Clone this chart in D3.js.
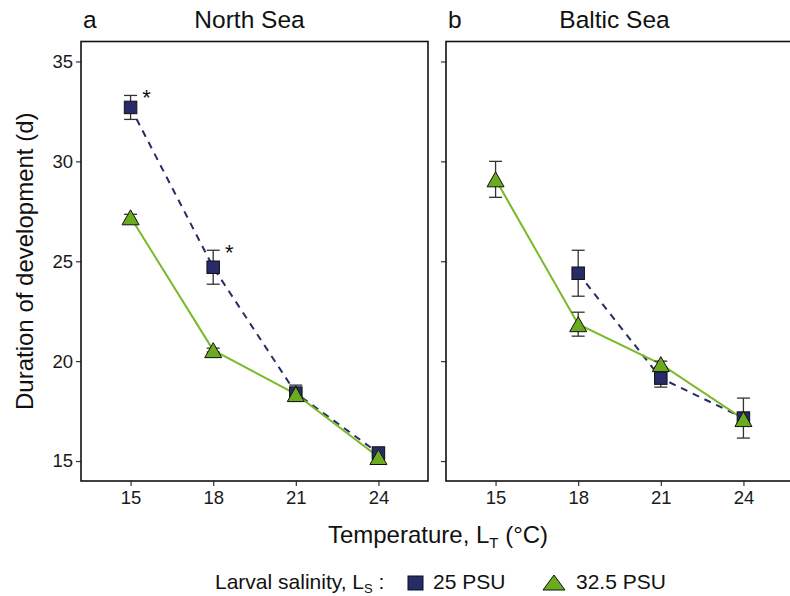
<!DOCTYPE html>
<html>
<head>
<meta charset="utf-8">
<script src="https://cdn.jsdelivr.net/npm/d3@7/dist/d3.min.js"></script>
<style>
  html, body { margin: 0; padding: 0; background: #fff; }
  svg { display: block; font-family: "Liberation Sans", Arial, Helvetica, sans-serif; }
</style>
</head>
<body>
<svg id="chart" width="790" height="596"></svg>
<script>
// ---- data ----
const temps = [15, 18, 21, 24];
const tickTemps = [15, 18, 21, 24];
const yTicks = [15, 20, 25, 30, 35];
const panels = ["North Sea", "Baltic Sea"];
const panelLetters = ["a", "b"];
const seriesNames = ["25 PSU", "32.5 PSU"];

const northLow = [32.7, 24.7, 18.4, 15.4];
const northLowErr = [0.6, 0.85, 0.4, 0.15];
const northHigh = [27.2, 20.55, 18.35, 15.2];
const northHighErr = [0.15, 0.1, 0.15, 0.1];

const balticLow = [null, 24.4, 19.15, 17.15];
const balticLowErr = [null, 1.15, 0.45, 1.0];
const balticHigh = [29.1, 21.85, 19.85, 17.1];
const balticHighErr = [0.9, 0.6, 0.15, 0.3];

// significance markers (panel index, temperature)
const starPanel = [0, 0];
const starTemp = [15, 18];

// ---- layout ----
const svg = d3.select("#chart");
const plotTop = 41.5, plotBottom = 481;
const panelLeft = [81, 446];
const panelWidth = 347;
const navy = "#272b68";
const greenFill = "#6aab1f";
const greenLine = "#7aba2a";

const y = d3.scaleLinear().domain([14, 36]).range([plotBottom, plotTop]);

const dataSets = [
  { low: northLow, lowErr: northLowErr, high: northHigh, highErr: northHighErr },
  { low: balticLow, lowErr: balticLowErr, high: balticHigh, highErr: balticHighErr }
];

panels.forEach((name, pi) => {
  const L = panelLeft[pi];
  const x = d3.scaleLinear().domain([13.2, 25.8]).range([L, L + panelWidth]);
  const g = svg.append("g");
  const ds = dataSets[pi];

  // axes
  const xAxis = d3.axisBottom(x).tickValues(tickTemps).tickSize(5).tickPadding(5);
  const gx = g.append("g").attr("transform", `translate(0,${plotBottom})`).call(xAxis);
  gx.select(".domain").remove();
  gx.selectAll("line").attr("stroke", "#333").attr("stroke-width", 1.2);
  gx.selectAll("text").attr("font-size", 18.5).attr("fill", "#1a1a1a")
    .attr("font-family", "Liberation Sans, Arial, sans-serif");

  const yAxis = d3.axisLeft(y).tickValues(yTicks).tickSize(5).tickPadding(3);
  const gy = g.append("g").attr("transform", `translate(${L},0)`).call(yAxis);
  gy.select(".domain").remove();
  gy.selectAll("line").attr("stroke", "#333").attr("stroke-width", 1.2);
  gy.selectAll("text").attr("font-size", 18.5).attr("fill", "#1a1a1a")
    .attr("font-family", "Liberation Sans, Arial, sans-serif")
    .style("display", pi === 0 ? null : "none");

  // panel border
  g.append("rect").attr("x", L).attr("y", plotTop)
    .attr("width", panelWidth).attr("height", plotBottom - plotTop)
    .attr("fill", "none").attr("stroke", "#111").attr("stroke-width", 1.6);

  // title and letter
  g.append("text").attr("x", L + panelWidth / 2 - 5).attr("y", 28)
    .attr("text-anchor", "middle").attr("font-size", 24.5).attr("fill", "#111").text(name);
  g.append("text").attr("x", L + 2).attr("y", 28)
    .attr("font-size", 24.5).attr("fill", "#111").text(panelLetters[pi]);

  const lowPts = temps.map((t, i) => ({ t, v: ds.low[i], e: ds.lowErr[i] })).filter(d => d.v != null);
  const highPts = temps.map((t, i) => ({ t, v: ds.high[i], e: ds.highErr[i] })).filter(d => d.v != null);

  const line = d3.line().x(d => x(d.t)).y(d => y(d.v));

  g.append("path").datum(lowPts).attr("d", line)
    .attr("fill", "none").attr("stroke", navy).attr("stroke-width", 2)
    .attr("stroke-dasharray", "7,6");
  g.append("path").datum(highPts).attr("d", line)
    .attr("fill", "none").attr("stroke", greenLine).attr("stroke-width", 2);

  // error bars
  const capW = 6.5;
  [lowPts, highPts].forEach(pts => {
    const eb = g.append("g").selectAll("g").data(pts).join("g")
      .attr("stroke", "#333").attr("stroke-width", 1.3).attr("fill", "none");
    eb.append("line").attr("x1", d => x(d.t)).attr("x2", d => x(d.t))
      .attr("y1", d => y(d.v - d.e)).attr("y2", d => y(d.v + d.e));
    eb.append("line").attr("x1", d => x(d.t) - capW).attr("x2", d => x(d.t) + capW)
      .attr("y1", d => y(d.v - d.e)).attr("y2", d => y(d.v - d.e));
    eb.append("line").attr("x1", d => x(d.t) - capW).attr("x2", d => x(d.t) + capW)
      .attr("y1", d => y(d.v + d.e)).attr("y2", d => y(d.v + d.e));
  });

  // squares
  const sq = 12.5;
  g.append("g").selectAll("rect").data(lowPts).join("rect")
    .attr("x", d => x(d.t) - sq / 2).attr("y", d => y(d.v) - sq / 2)
    .attr("width", sq).attr("height", sq)
    .attr("fill", navy).attr("stroke", "#111").attr("stroke-width", 1);

  // triangles
  const tw = 17, th = 15;
  g.append("g").selectAll("path").data(highPts).join("path")
    .attr("d", d => {
      const cx = x(d.t), cy = y(d.v);
      return `M${cx},${cy - th / 2}L${cx + tw / 2},${cy + th / 2}L${cx - tw / 2},${cy + th / 2}Z`;
    })
    .attr("fill", greenFill).attr("stroke", "#111").attr("stroke-width", 1).attr("stroke-linejoin", "miter");

  // significance asterisks
  starPanel.forEach((p, k) => {
    if (p !== pi) return;
    const i = temps.indexOf(starTemp[k]);
    const errTop = ds.low[i] + ds.lowErr[i];
    g.append("text").attr("x", x(starTemp[k]) + 16).attr("y", y(errTop) + 10)
      .attr("text-anchor", "middle").attr("font-size", 22).attr("fill", "#111").text("*");
  });
});

// x axis title
const xt = svg.append("text").attr("x", 438).attr("y", 543)
  .attr("text-anchor", "middle").attr("font-size", 24).attr("fill", "#111");
xt.append("tspan").text("Temperature, L");
xt.append("tspan").attr("font-size", 15).attr("dy", 5).text("T");
xt.append("tspan").attr("dy", -5).text(" (°C)");

// y axis title
svg.append("text").attr("transform", `translate(33,${(plotTop + plotBottom) / 2}) rotate(-90)`)
  .attr("text-anchor", "middle").attr("font-size", 24).attr("fill", "#111")
  .text("Duration of development (d)");

// legend
const lg = svg.append("g");
const lt = lg.append("text").attr("x", 215).attr("y", 589).attr("font-size", 21).attr("fill", "#111");
lt.append("tspan").text("Larval salinity, L");
lt.append("tspan").attr("font-size", 13).attr("dy", 4).text("S");
lt.append("tspan").attr("dy", -4).text(" :");

lg.append("rect").attr("x", 408).attr("y", 576).attr("width", 15).attr("height", 14)
  .attr("fill", navy).attr("stroke", "#111").attr("stroke-width", 1);
lg.append("text").attr("x", 433).attr("y", 589).attr("font-size", 21).attr("fill", "#111").text(seriesNames[0]);

lg.append("path").attr("d", "M554,575L565,590L543,590Z")
  .attr("fill", greenFill).attr("stroke", "#111").attr("stroke-width", 1);
lg.append("text").attr("x", 576).attr("y", 589).attr("font-size", 21).attr("fill", "#111").text(seriesNames[1]);
</script>
</body>
</html>
